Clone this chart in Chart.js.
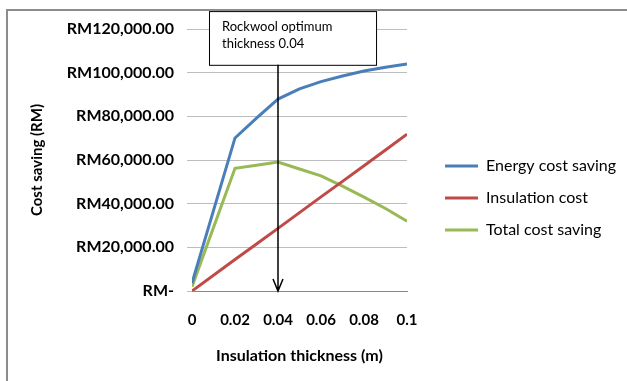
<!DOCTYPE html>
<html>
<head>
<meta charset="utf-8">
<script src="https://cdn.jsdelivr.net/npm/chart.js@4/dist/chart.umd.min.js"></script>
<style>
  body { margin: 0; background: #fff; }
  #wrap { width: 627px; height: 381px; position: relative; }
</style>
</head>
<body>
<div id="wrap"><canvas id="myChart"></canvas></div>
<script>
// thickness (m)
const thickness = [0, 0.02, 0.03, 0.04, 0.05, 0.06, 0.07, 0.08, 0.09, 0.1];
const energySaving = [3600, 70100, 79200, 87900, 92600, 95900, 98500, 100800, 102500, 104000];
const insulationCost = [0, 14400, 21500, 28700, 35900, 43100, 50200, 57400, 64600, 71800];
const totalSaving = [2000, 56200, 57600, 59100, 55900, 52700, 48000, 43000, 37800, 32000];

const seriesNames = ["Energy cost saving", "Insulation cost", "Total cost saving"];
const seriesColors = ["#4a7ebb", "#be4b48", "#98b954"];
const xTicks = [0, 0.02, 0.04, 0.06, 0.08, 0.1];
const yTicks = [0, 20000, 40000, 60000, 80000, 100000, 120000];

// annotation box + arrow
const noteLines = ["Rockwool optimum", "thickness 0.04"];
const noteX = 0.04;
const noteBox = { x0: 0.0079, x1: 0.0856, yTop: 128200, yBottom: 103600 };

const font = "Lato, 'Liberation Sans', sans-serif";

const toPoints = (ys) => ys.map((y, i) => ({ x: thickness[i], y: y }));

const frameAndNote = {
  id: "frameAndNote",
  afterLayout(chart) {
    // push the legend a bit away from the plot like Excel does
    const lg = chart.legend;
    lg.left += 22;
    lg.right = chart.width;
    lg.width = lg.right - lg.left;
    lg.top -= 7;
    lg.bottom -= 7;
  },
  beforeDraw(chart) {
    const ctx = chart.ctx;
    ctx.save();
    ctx.fillStyle = "#fff";
    ctx.fillRect(0, 0, chart.width, chart.height);
    ctx.strokeStyle = "#8c8c8c";
    ctx.lineWidth = 2;
    ctx.beginPath();
    ctx.moveTo(7, chart.height);
    ctx.lineTo(7, 10);
    ctx.lineTo(chart.width, 10);
    ctx.stroke();
    ctx.restore();
  },
  afterDatasetsDraw(chart) {
    const { ctx, scales: { x, y } } = chart;
    const bx0 = x.getPixelForValue(noteBox.x0);
    const bx1 = x.getPixelForValue(noteBox.x1);
    const by0 = y.getPixelForValue(noteBox.yTop);
    const by1 = y.getPixelForValue(noteBox.yBottom);
    const ax = x.getPixelForValue(noteX);
    const ay = y.getPixelForValue(0);

    ctx.save();
    ctx.fillStyle = "#fff";
    ctx.fillRect(bx0, by0, bx1 - bx0, by1 - by0);
    ctx.strokeStyle = "#000";
    ctx.lineWidth = 1;
    ctx.strokeRect(bx0 + 0.5, by0 + 0.5, bx1 - bx0, by1 - by0);

    ctx.lineWidth = 1.5;
    ctx.beginPath();
    ctx.moveTo(ax, by1);
    ctx.lineTo(ax, ay);
    ctx.moveTo(ax - 5, ay - 12);
    ctx.lineTo(ax, ay);
    ctx.lineTo(ax + 5, ay - 12);
    ctx.stroke();

    ctx.fillStyle = "#000";
    ctx.font = "13px " + font;
    ctx.textBaseline = "middle";
    noteLines.forEach((t, i) => ctx.fillText(t, bx0 + 13, by0 + 16 + i * 17));
    ctx.restore();
  },
};

const config = {
  type: "line",
  data: {
    datasets: [energySaving, insulationCost, totalSaving].map((ys, i) => ({
      label: seriesNames[i],
      data: toPoints(ys),
      borderColor: seriesColors[i],
      backgroundColor: seriesColors[i],
      borderWidth: 3,
      pointRadius: 0,
      tension: 0,
    })),
  },
  options: {
    responsive: true,
    maintainAspectRatio: false,
    animation: false,
    layout: { padding: { left: 25, top: 29, right: 60, bottom: 0 } },
    scales: {
      x: {
        type: "linear",
        min: 0,
        max: 0.1,
        afterBuildTicks: (s) => { s.ticks = xTicks.map((v) => ({ value: v })); },
        afterFit: (s) => { s.height = 90; },
        grid: { display: false, drawOnChartArea: false, tickLength: 5, color: "#888" },
        border: { display: true, color: "#888", width: 1 },
        ticks: {
          padding: 15,
          color: "#000",
          font: { family: font, size: 15, weight: "bold" },
          callback: (v) => String(Number(v.toFixed(2))),
        },
        title: {
          display: true,
          text: "Insulation thickness (m)",
          color: "#000",
          font: { family: font, size: 16, weight: "bold" },
          padding: { top: 0, bottom: 16 },
        },
      },
      y: {
        min: 0,
        max: 120000,
        afterBuildTicks: (s) => { s.ticks = yTicks.map((v) => ({ value: v })); },
        afterFit: (s) => { s.width = 167; },
        grid: { color: "#bdbdbd", tickLength: 5 },
        border: { display: false },
        ticks: {
          padding: 13,
          color: "#000",
          font: { family: font, size: 16, weight: "bold" },
          callback: (v) => v === 0 ? "RM-" : "RM" + v.toLocaleString("en-US", { minimumFractionDigits: 2 }),
        },
        title: {
          display: true,
          text: "Cost saving (RM)",
          color: "#000",
          font: { family: font, size: 15, weight: "bold" },
          padding: { top: 3, bottom: 0 },
        },
      },
    },
    plugins: {
      tooltip: { enabled: false },
      legend: {
        position: "right",
        maxWidth: 160,
        labels: {
          boxWidth: 33,
          boxHeight: 0,
          padding: 16,
          color: "#000",
          font: { family: font, size: 16 },
        },
      },
    },
  },
  plugins: [frameAndNote],
};

new Chart(document.getElementById("myChart"), config);
</script>
</body>
</html>
